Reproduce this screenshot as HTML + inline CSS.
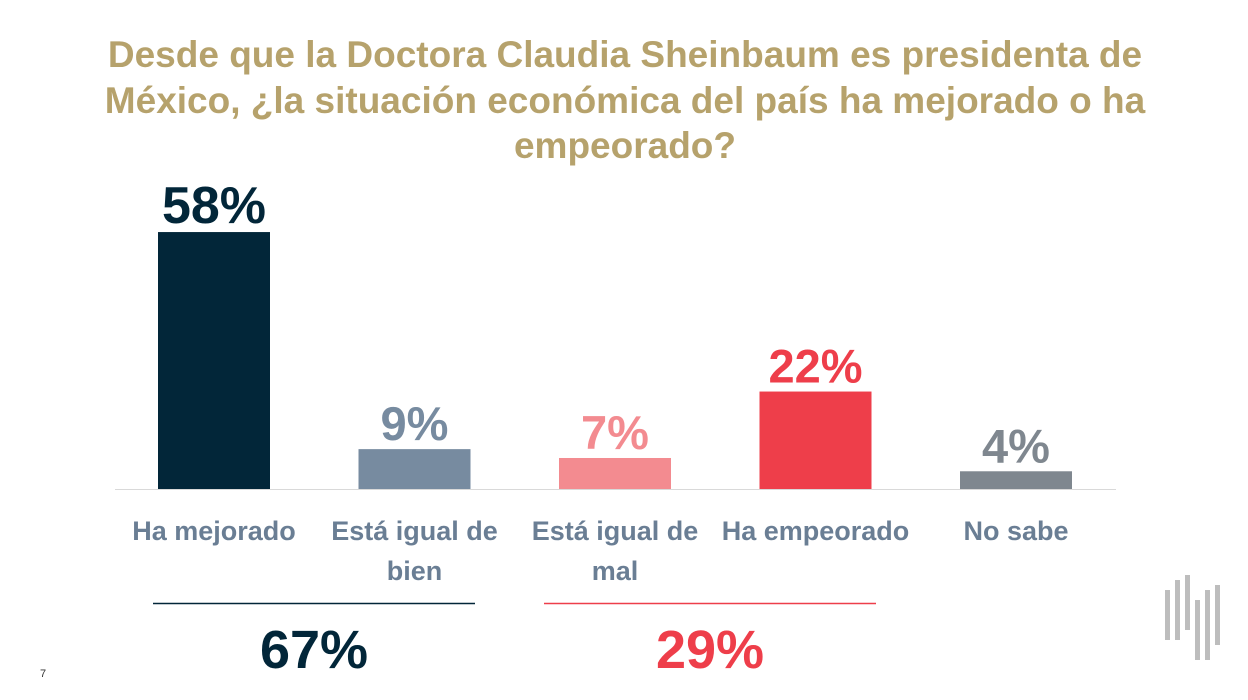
<!DOCTYPE html>
<html><head><meta charset="utf-8"><style>
body{margin:0;width:1248px;height:700px;background:#fff;overflow:hidden;font-family:"Liberation Sans",sans-serif}
#title{position:absolute;left:20px;width:1210px;top:32px;text-align:center;color:#B6A26C;font-weight:bold;font-size:37px;line-height:45.5px;white-space:nowrap}
</style></head><body>
<div id="title">Desde que la Doctora Claudia Sheinbaum es presidenta de<br>México, ¿la situación económica del país ha mejorado o ha<br>empeorado?</div>
<svg id="chart" width="1248" height="700" style="position:absolute;left:0;top:0"></svg>
<script>
const categories=[["Ha mejorado"],["Está igual de","bien"],["Está igual de","mal"],["Ha empeorado"],["No sabe"]];
const values=[58,9,7,22,4];
const colors=["#022639","#778BA0","#F38B90","#EE3E4A","#7F878F"];
const groupTotals=[67,29];
const groupColors=["#022639","#EE3E4A"];
const NS="http://www.w3.org/2000/svg";
const svg=document.getElementById('chart');
const base=489,scale=4.43,x0=214,step=200.5,bw=112;
const y=v=>base-v*scale, xc=i=>x0+i*step;
function mk(t,a,txt){const e=document.createElementNS(NS,t);for(const k in a)e.setAttribute(k,a[k]);if(txt!==undefined)e.textContent=txt;svg.appendChild(e);return e;}
const ax=mk('line',{x1:115,x2:1116,y1:base+0.5,y2:base+0.5,stroke:'#D9D9D9','stroke-width':1});


values.forEach((v,i)=>{
 const r=mk('rect',{x:xc(i)-bw/2,y:y(v),width:bw,height:v*scale,fill:colors[i]});
 
 
 const t=mk('text',{x:xc(i),y:y(v)-9,'text-anchor':'middle','font-weight':'bold','font-size':i==0?52:47,fill:colors[i]},v+'%');
 
 
 categories[i].forEach((ln,j)=>{
  const c=mk('text',{x:xc(i),y:540+j*40,'text-anchor':'middle','font-weight':'bold','font-size':27,fill:'#6A7E94'},ln);
  
  
 });
});
const groups=[[153,475],[544,876]];
groups.forEach((g,k)=>{
 const l=mk('line',{x1:g[0],x2:g[1],y1:603.5,y2:603.5,stroke:groupColors[k],'stroke-width':1.5});
 
 
 const t=mk('text',{x:(g[0]+g[1])/2,y:668,'text-anchor':'middle','font-weight':'bold','font-size':54,fill:groupColors[k]},groupTotals[k]+'%');
 
 
});
const pg=mk('text',{x:40,y:677,'font-size':11,fill:'#333'},'7');


const logo=document.createElementNS(NS,'g');


logo.setAttribute('fill','#BDBDBD');
[[1165,590,5,50],[1175,580,5,60],[1185,575,5,55],[1195,600,5,60],[1205,590,5,70],[1215,585,5,60]].forEach(r=>{
 const e=document.createElementNS(NS,'rect');e.setAttribute('x',r[0]);e.setAttribute('y',r[1]);e.setAttribute('width',r[2]);e.setAttribute('height',r[3]);logo.appendChild(e);});
svg.appendChild(logo);
</script>
</body></html>
